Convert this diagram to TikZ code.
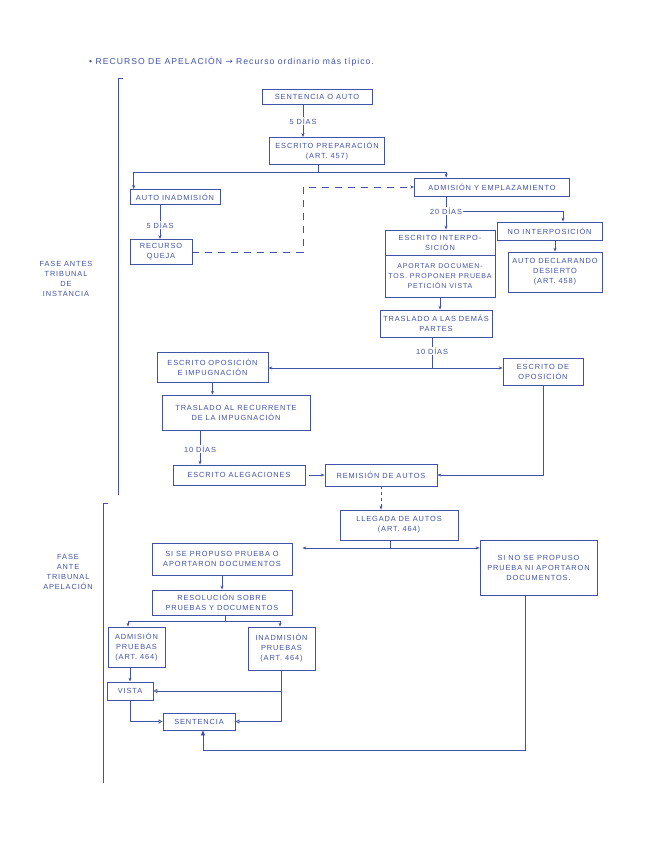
\documentclass[tikz,border=0pt]{standalone}
\usepackage{fontspec}
\setmainfont[LetterSpace=12]{Liberation Sans}
\newfontfamily\symf{DejaVu Sans}
\usetikzlibrary{arrows.meta}
\definecolor{ink}{RGB}{66,82,170}
\tikzset{
  bx/.style={draw=ink, line width=0.7pt, text=ink, font=\fontsize{7.4}{10}\selectfont, align=center, inner sep=1pt},
  lbl/.style={text=ink, font=\fontsize{7.4}{10}\selectfont, align=center, inner sep=1pt},
  ln/.style={draw=ink, line width=0.7pt},
  arr/.style={ln, -{Stealth[length=4pt,width=3pt]}},
  both/.style={ln, {Stealth[length=4pt,width=3pt]}-{Stealth[length=4pt,width=3pt]}},
  tri/.style={ln, -{Triangle[open,length=4pt,width=4pt]}},
  filltri/.style={ln, -{Triangle[length=5pt,width=4pt]}},
  dsh/.style={ln, dash pattern=on 7pt off 6pt},
  dshort/.style={ln, dash pattern=on 3pt off 3pt}
}
\begin{document}
\begin{tikzpicture}[x=1pt,y=-1pt]
\useasboundingbox (0,0) rectangle (655,848);
\fill[white] (0,0) rectangle (655,848);

% title
\node[lbl, anchor=west, font=\fontsize{8.6}{10}\selectfont] (title) at (88,62) {• RECURSO DE APELACIÓN {\symf →} Recurso ordinario más típico.};

% phase brackets and labels
\draw[ln] (123,78) -- (118,78) -- (118,495);
\draw[ln] (108,503) -- (103,503) -- (103,783);
\node[lbl] (ph1) at (66,279) {FASE ANTES\\TRIBUNAL\\DE\\INSTANCIA};
\node[lbl] (ph2) at (68,572) {FASE\\ANTE\\TRIBUNAL\\APELACIÓN};

% boxes
\node[bx,minimum width=110pt,minimum height=15pt] (sent) at (317,97) {SENTENCIA O AUTO};
\node[lbl] (d1) at (303,121) {5 DÍAS};
\node[bx,minimum width=115pt,minimum height=27pt] (prep) at (327,151) {ESCRITO PREPARACIÓN\\(ART. 457)};
\node[bx,minimum width=90pt,minimum height=15pt] (inad) at (175,197) {AUTO INADMISIÓN};
\node[lbl] (d2) at (160,225) {5 DÍAS};
\node[bx,minimum width=62pt,minimum height=25pt] (queja) at (161,252) {RECURSO\\QUEJA};
\node[bx,minimum width=155pt,minimum height=18pt] (admi) at (492,187) {ADMISIÓN Y EMPLAZAMIENTO};
\node[lbl] (d3) at (446,211) {20 DÍAS};
\node[bx,minimum width=110pt,minimum height=25pt] (escA) at (440,242.5) {ESCRITO INTERPO-\\SICIÓN};
\node[bx,minimum width=110pt,minimum height=42pt,font=\fontsize{7}{10}\selectfont] (escB) at (440,276) {APORTAR DOCUMEN-\\TOS. PROPONER PRUEBA\\PETICIÓN VISTA};
\node[bx,minimum width=105pt,minimum height=18pt] (noint) at (549.5,231) {NO INTERPOSICIÓN};
\node[bx,minimum width=94pt,minimum height=40pt] (desi) at (555,272) {AUTO DECLARANDO\\DESIERTO\\(ART. 458)};
\node[bx,minimum width=112pt,minimum height=27pt] (tras) at (436,323.5) {TRASLADO A LAS DEMÁS\\PARTES};
\node[lbl] (d4) at (432,351) {10 DÍAS};
\node[bx,minimum width=111pt,minimum height=30pt] (opimp) at (212.5,367) {ESCRITO OPOSICIÓN\\E IMPUGNACIÓN};
\node[bx,minimum width=80pt,minimum height=27pt] (opos) at (543,371.5) {ESCRITO DE\\OPOSICIÓN};
\node[bx,minimum width=148pt,minimum height=35pt] (trrec) at (236,412.5) {TRASLADO AL RECURRENTE\\DE LA IMPUGNACIÓN};
\node[lbl] (d5) at (200,449) {10 DÍAS};
\node[bx,minimum width=132pt,minimum height=20pt] (aleg) at (239,475) {ESCRITO ALEGACIONES};
\node[bx,minimum width=112pt,minimum height=22pt] (remi) at (381,475) {REMISIÓN DE AUTOS};
\node[bx,minimum width=118pt,minimum height=30pt] (lleg) at (399,525) {LLEGADA DE AUTOS\\(ART. 464)};
\node[bx,minimum width=140pt,minimum height=32pt] (sise) at (222,559) {SI SE PROPUSO PRUEBA O\\APORTARON DOCUMENTOS};
\node[bx,minimum width=117pt,minimum height=55pt] (sino) at (538.5,567.5) {SI NO SE PROPUSO\\PRUEBA NI APORTARON\\DOCUMENTOS.};
\node[bx,minimum width=140pt,minimum height=25pt] (resol) at (222,602.5) {RESOLUCIÓN SOBRE\\PRUEBAS Y DOCUMENTOS};
\node[bx,minimum width=57pt,minimum height=40pt] (admp) at (136.5,647) {ADMISIÓN\\PRUEBAS\\(ART. 464)};
\node[bx,minimum width=67pt,minimum height=43pt] (inadp) at (281.5,648.5) {INADMISIÓN\\PRUEBAS\\(ART. 464)};
\node[bx,minimum width=46pt,minimum height=18pt] (vista) at (130,691) {VISTA};
\node[bx,minimum width=72pt,minimum height=17pt] (sent2) at (199,721.5) {SENTENCIA};

% connectors
\draw[ln] (sent.south -| d1) -- (d1.north);
\draw[arr] (d1.south) -- (prep.north -| d1);
\coordinate (j1) at (318,172);
\draw[ln] (prep.south -| j1) -- (j1);
\draw[arr] (j1) -| ([xshift=4pt]inad.north west);
\draw[arr] (j1) -| ([xshift=32pt]admi.north west);
\draw[ln] (inad.south -| d2) -- (d2.north);
\draw[arr] (d2.south) -- (queja.north -| d2);
\coordinate (q1) at (303,187);
\draw[dsh,-{Stealth[length=4pt,width=3pt]}] (queja.east) -| (q1) -- (admi.west);
\draw[ln] (admi.south -| d3) -- (d3.north);
\draw[arr] (d3.south) -- (escA.north -| d3);
\draw[arr] (d3.east) -| ([xshift=13.5pt]noint.north);
\draw[arr] (noint.south -| desi) -- (desi.north);
\draw[arr] (escB.south) -- (tras.north -| escB);
\draw[ln] (tras.south -| d4) -- (d4.north);
\coordinate (h4) at (432,368);
\draw[ln] (d4.south) -- (h4);
\draw[both] (opimp.east |- h4) -- (opos.west |- h4);
\draw[arr] (opimp.south) -- (trrec.north -| opimp.south);
\draw[ln] (trrec.south -| d5) -- (d5.north);
\draw[arr] (d5.south) -- (aleg.north -| d5);
\draw[arr, shorten <=4pt] (aleg.east) -- (remi.west);
\draw[arr] (opos.south) |- (remi.east);
\draw[dshort,-{Stealth[length=4pt,width=3pt]}] (remi.south) -- (remi.south |- lleg.north);
\coordinate (h6) at (390,548);
\draw[ln] (lleg.south -| h6) -- (h6);
\draw[both, shorten <=10pt] (sise.east |- h6) -- (sino.west |- h6);
\draw[arr] (sise.south) -- (resol.north -| sise.south);
\coordinate (j7) at (225,621);
\draw[ln] (resol.south -| j7) -- (j7);
\draw[arr] (j7) -| ([xshift=-8.5pt]admp.north);
\draw[arr] (j7) -| ([xshift=-1.5pt]inadp.north);
\draw[arr] (admp.south -| vista.north) -- (vista.north);
\draw[ln] (inadp.south) -- (inadp.south |- sent2.east);
\draw[tri] (inadp.south |- vista.east) -- (vista.east);
\draw[tri] (inadp.south |- sent2.east) -- (sent2.east);
\draw[tri] (vista.south) |- (sent2.west);
\coordinate (b1) at (525,750);
\draw[filltri] (sino.south -| b1) -- (b1) -| ([xshift=4pt]sent2.south);
\end{tikzpicture}
\end{document}
